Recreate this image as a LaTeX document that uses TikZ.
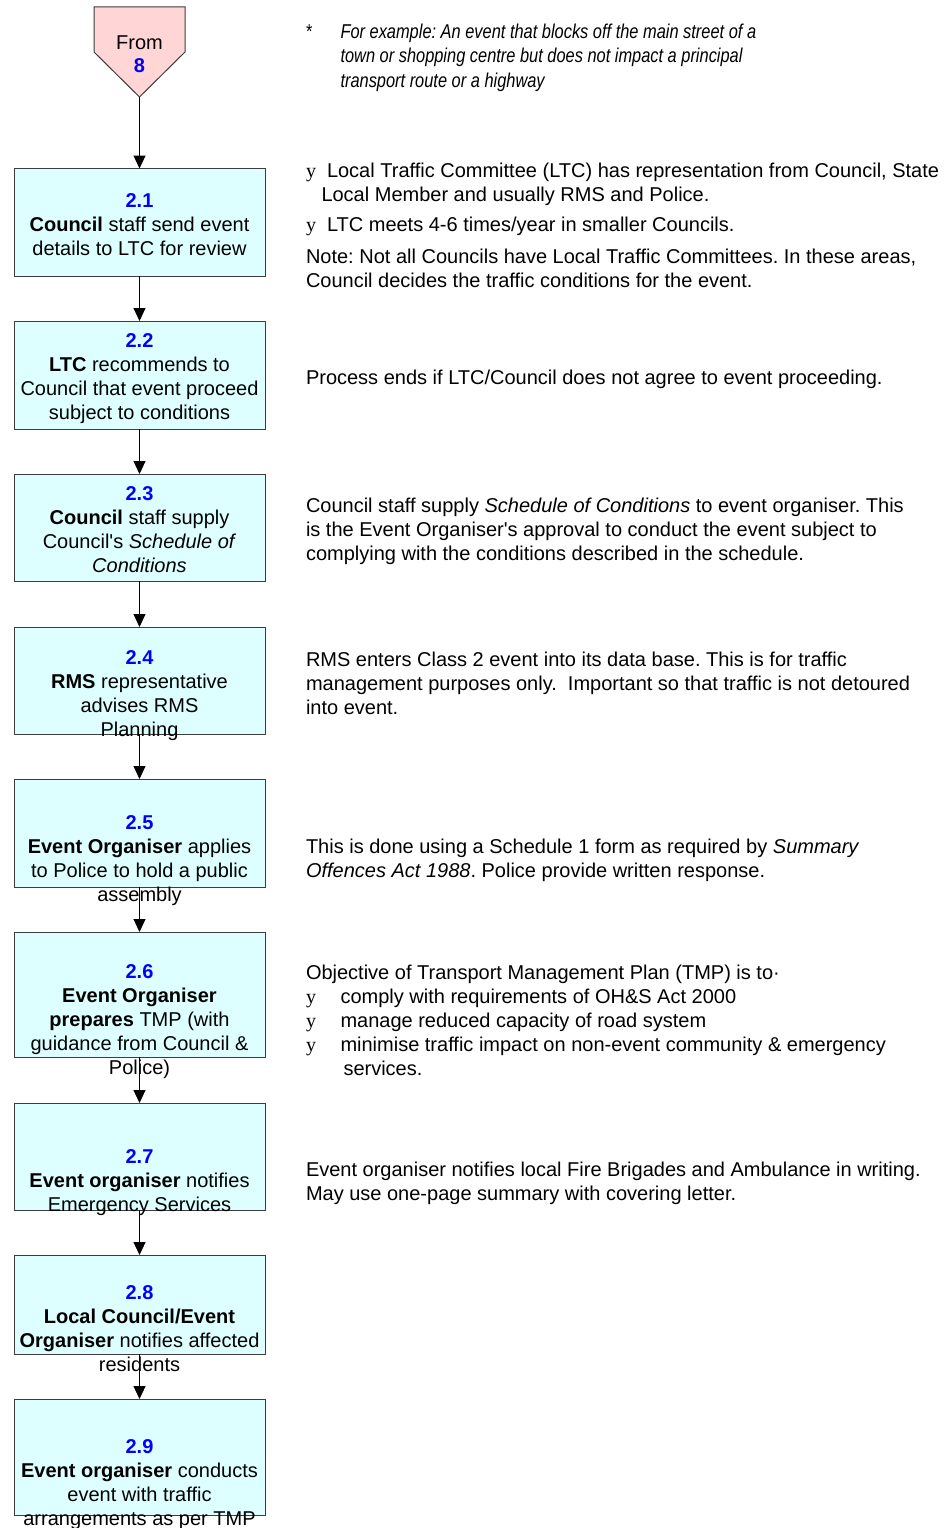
\documentclass[tikz,border=0pt]{standalone}
\usepackage{fontspec}
\setmainfont{Liberation Sans}
\newfontfamily\bulletfont{Liberation Serif}
\newfontfamily\narrowfont{Liberation Sans}[FakeStretch=0.82]
% font without the TeX quote mapping, for straight apostrophes
\newfontfamily\aposfont{Liberation Sans}[Ligatures=ResetAll]
\usetikzlibrary{arrows.meta}
\definecolor{boxfill}{RGB}{221,255,255}
\definecolor{boxline}{RGB}{60,60,60}
\definecolor{frompink}{RGB}{255,213,213}
\definecolor{numblue}{RGB}{0,0,255}
\frenchspacing
% strut that fixes the top of every text block 16pt above its first baseline
\newcommand{\topln}{\rule{0pt}{16pt}}
\newcommand{\stepnum}[1]{\textcolor{numblue}{\textbf{#1}}}
\newcommand{\bul}{{\bulletfont y}}
\newcommand{\apos}{{\aposfont '}}

\begin{document}
\begin{tikzpicture}[x=1pt,y=-1pt,
  every node/.style={inner sep=0pt, outer sep=0pt},
  stepbox/.style={draw=boxline, fill=boxfill, line width=1pt, minimum width=251pt},
  boxtext/.style={anchor=north, align=center, font=\fontsize{20}{24}\selectfont},
  note/.style={anchor=north west, align=left, font=\fontsize{20}{24}\selectfont},
  footnote/.style={anchor=north west, align=left, font=\fontsize{20}{24}\narrowfont\itshape},
  flow/.style={draw=black, line width=1pt, -{Triangle[width=12pt,length=13pt]}}]

\useasboundingbox (0,0) rectangle (952,1528);

% entry connector shape
\filldraw[fill=frompink, draw=boxline, line width=1pt]
  (94,7) -- (185,7) -- (185,52) -- (139.5,97) -- (94,52) -- cycle;
\coordinate (fromtip) at (139.5,97);
\node[boxtext] (fromlbl) at (139.5,33) {\topln From\\\stepnum{8}};

% process steps
\node[stepbox, minimum height=107.5pt] (s1) at (139.5,222.25) {};
\node[stepbox, minimum height=108pt]   (s2) at (139.5,375) {};
\node[stepbox, minimum height=107pt]   (s3) at (139.5,527.5) {};
\node[stepbox, minimum height=107pt]   (s4) at (139.5,680.5) {};
\node[stepbox, minimum height=108pt]   (s5) at (139.5,833) {};
\node[stepbox, minimum height=125pt]   (s6) at (139.5,994.5) {};
\node[stepbox, minimum height=107pt]   (s7) at (139.5,1156.5) {};
\node[stepbox, minimum height=99pt]    (s8) at (139.5,1304.5) {};
\node[stepbox, minimum height=116pt]   (s9) at (139.5,1457) {};

\node[boxtext] (t1) at (139.5,191.5) {\topln\stepnum{2.1}\\\textbf{Council} staff send event\\details to LTC for review};
\node[boxtext] (t2) at (139.5,331.5) {\topln\stepnum{2.2}\\\textbf{LTC} recommends to\\Council that event proceed\\subject to conditions};
\node[boxtext] (t3) at (139.5,484) {\topln\stepnum{2.3}\\\textbf{Council} staff supply\\Council\apos s \textit{Schedule of}\\\textit{Conditions}};
\node[boxtext] (t4) at (139.5,648.5) {\topln\stepnum{2.4}\\\textbf{RMS} representative\\advises RMS\\Planning};
\node[boxtext] (t5) at (139.5,813.5) {\topln\stepnum{2.5}\\\textbf{Event Organiser} applies\\to Police to hold a public\\assembly};
\node[boxtext] (t6) at (139.5,962) {\topln\stepnum{2.6}\\\textbf{Event Organiser}\\\textbf{prepares} TMP (with\\guidance from Council \&\\Police)};
\node[boxtext] (t7) at (139.5,1147) {\topln\stepnum{2.7}\\\textbf{Event organiser} notifies\\Emergency Services};
\node[boxtext] (t8) at (139.5,1283) {\topln\stepnum{2.8}\\\textbf{Local Council/Event}\\\textbf{Organiser} notifies affected\\residents};
\node[boxtext] (t9) at (139.5,1437) {\topln\stepnum{2.9}\\\textbf{Event organiser} conducts\\event with traffic\\arrangements as per TMP};

% flow connectors
\draw[flow] (fromtip) -- (s1.north);
\draw[flow] (s1.south) -- (s2.north);
\draw[flow] (s2.south) -- (s3.north);
\draw[flow] (s3.south) -- (s4.north);
\draw[flow] (s4.south) -- (s5.north);
\draw[flow] (s5.south) -- (s6.north);
\draw[flow] (s6.south) -- (s7.north);
\draw[flow] (s7.south) -- (s8.north);
\draw[flow] (s8.south) -- (s9.north);

% explanatory notes
\node[footnote, font=\fontsize{20}{24}\narrowfont] (fnstar) at (306,23) {\topln *};
\node[footnote] (fn) at (340.5,23) {\topln For example: An event that blocks off the main street of a\\town or shopping centre but does not impact a principal\\transport route or a highway};

\node[note] (n1y) at (306,161) {\topln\bul};
\node[note] (n1) at (321.5,161) {\topln\hspace*{5.5pt}Local Traffic Committee (LTC) has representation from Council, State\\Local Member and usually RMS and Police.};
\node[note] (n2y) at (306,215) {\topln\bul};
\node[note] (n2) at (327,215) {\topln LTC meets 4-6 times/year in smaller Councils.};
\node[note] (n3) at (306,247) {\topln Note: Not all Councils have Local Traffic Committees. In these areas,\\Council decides the traffic conditions for the event.};

\node[note] (n4) at (306,368) {\topln Process ends if LTC/Council does not agree to event proceeding.};

\node[note] (n5) at (306,496) {\topln Council staff supply \textit{Schedule of Conditions} to event organiser. This\\is the Event Organiser\apos s approval to conduct the event subject to\\complying with the conditions described in the schedule.};

\node[note] (n6) at (306,650) {\topln RMS enters Class 2 event into its data base. This is for traffic\\management purposes only.\ \ Important so that traffic is not detoured\\into event.};

\node[note] (n7) at (306,837) {\topln This is done using a Schedule 1 form as required by \textit{Summary}\\\textit{Offences Act 1988}. Police provide written response.};

\node[note] (n8) at (306,963) {\topln Objective of Transport Management Plan (TMP) is to·};
\node[note] (n8y) at (306,987) {\topln\bul\\\bul\\\bul};
\node[note] (n8b) at (340.5,987) {\topln comply with requirements of OH\&S Act 2000\\manage reduced capacity of road system\\minimise traffic impact on non-event community \& emergency\\\hspace*{3pt}services.};

\node[note] (n9) at (306,1160) {\topln Event organiser notifies local Fire Brigades and Ambulance in writing.\\May use one-page summary with covering letter.};

\end{tikzpicture}
\end{document}
